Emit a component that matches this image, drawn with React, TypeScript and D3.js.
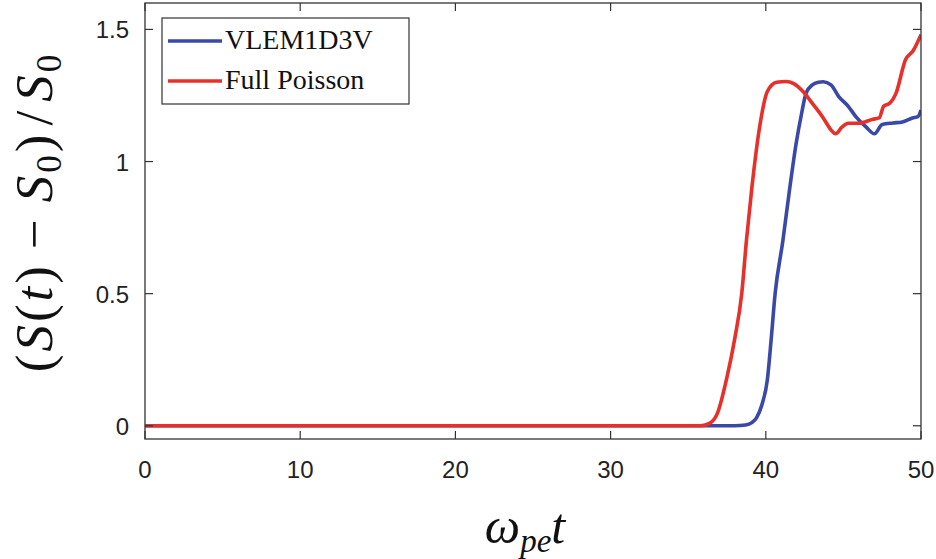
import React from "react";
import * as d3 from "d3";

const xTicks = [0, 10, 20, 30, 40, 50];
const yTicks = [0, 0.5, 1, 1.5];
const yTickLabels = ["0", "0.5", "1", "1.5"];

const seriesNames = ["VLEM1D3V", "Full Poisson"];
const seriesColors = ["#3a48a8", "#e8302a"];

const blueX = [0, 38, 38.7, 39.1, 39.4, 39.75, 40.1, 40.35, 40.6, 41.1, 41.5, 41.96, 42.3, 42.6, 43.0, 43.4, 43.7, 44.2, 44.7, 45.3, 45.8, 46.47, 47.0, 47.5, 48.2, 48.8, 49.45, 49.8, 50];
const blueY = [0, 0, 0.003, 0.012, 0.03, 0.08, 0.174, 0.33, 0.5, 0.7, 0.88, 1.07, 1.18, 1.26, 1.29, 1.3, 1.302, 1.29, 1.246, 1.21, 1.17, 1.13, 1.105, 1.14, 1.146, 1.15, 1.165, 1.17, 1.195];

const redX = [0, 35.8, 36.4, 36.9, 37.46, 38.0, 38.45, 38.75, 39.1, 39.6, 40.1, 40.7, 41.3, 41.8, 42.4, 43.0, 43.7, 44.2, 44.5, 44.9, 45.3, 46.0, 46.9, 47.3, 47.6, 47.97, 48.4, 49.0, 49.5, 50];
const redY = [0, 0, 0.01, 0.05, 0.174, 0.33, 0.5, 0.7, 0.9, 1.13, 1.265, 1.3, 1.303, 1.295, 1.265, 1.22, 1.165, 1.12, 1.105, 1.13, 1.145, 1.145, 1.16, 1.165, 1.21, 1.22, 1.26, 1.385, 1.42, 1.48];

const seriesX = [blueX, redX];
const seriesY = [blueY, redY];

export default function App() {
  const W = 936, H = 559;
  const left = 145, right = 921, top = 3, bottom = 439;
  const x = d3.scaleLinear().domain([0, 50]).range([left, right]);
  const y = d3.scaleLinear().domain([-0.05, 1.6]).range([bottom, top]);
  const line = d3
    .line<[number, number]>()
    .x((d) => x(d[0]))
    .y((d) => y(d[1]))
    .curve(d3.curveMonotoneX);
  const tickLen = 8;
  const axisColor = "#333";
  const sans = "'Liberation Sans', Arial, sans-serif";
  const serif = "'Liberation Serif', 'DejaVu Serif', 'Times New Roman', serif";

  return (
    <svg width={W} height={H} style={{ position: "absolute", left: 0, top: 0, background: "#fff" }}>
      <rect x={0} y={0} width={W} height={H} fill="#fff" />
      <defs>
        <clipPath id="plotclip">
          <rect x={left} y={top} width={right - left} height={bottom - top} />
        </clipPath>
      </defs>
      <g clipPath="url(#plotclip)">
        {seriesX.map((xs, i) => (
          <path
            key={i}
            d={line(xs.map((v, j) => [v, seriesY[i][j]] as [number, number])) || ""}
            fill="none"
            stroke={seriesColors[i]}
            strokeWidth={3.6}
            strokeLinejoin="round"
          />
        ))}
      </g>
      <rect x={left} y={top} width={right - left} height={bottom - top} fill="none" stroke={axisColor} strokeWidth={1.3} />
      {xTicks.map((t) => (
        <g key={"x" + t}>
          <line x1={x(t)} x2={x(t)} y1={bottom} y2={bottom - tickLen} stroke={axisColor} strokeWidth={1.2} />
          <line x1={x(t)} x2={x(t)} y1={top} y2={top + tickLen} stroke={axisColor} strokeWidth={1.2} />
          <text x={x(t)} y={478} textAnchor="middle" fontFamily={sans} fontSize={24} fill="#222">
            {t}
          </text>
        </g>
      ))}
      {yTicks.map((t, i) => (
        <g key={"y" + t}>
          <line x1={left} x2={left + tickLen} y1={y(t)} y2={y(t)} stroke={axisColor} strokeWidth={1.2} />
          <line x1={right} x2={right - tickLen} y1={y(t)} y2={y(t)} stroke={axisColor} strokeWidth={1.2} />
          <text x={129} y={y(t) + 9} textAnchor="end" fontFamily={sans} fontSize={24} fill="#222">
            {yTickLabels[i]}
          </text>
        </g>
      ))}
      {/* legend */}
      <rect x={162} y={18} width={247} height={86} fill="#fff" stroke={axisColor} strokeWidth={1.2} />
      {seriesNames.map((n, i) => (
        <g key={n}>
          <line x1={168} x2={222} y1={41 + i * 40} y2={41 + i * 40} stroke={seriesColors[i]} strokeWidth={3.6} />
          <text x={225} y={49 + i * 40} style={{ fontFamily: serif }} fontSize={28} fill="#111">
            {n}
          </text>
        </g>
      ))}
      {/* y label */}
      <text
        transform="translate(52,212) rotate(-90)"
        textAnchor="middle"
        style={{ fontFamily: serif, letterSpacing: "3px" }}
        fontSize={53}
        fill="#111"
      >
        <tspan>(</tspan>
        <tspan fontStyle="italic">S</tspan>
        <tspan>(</tspan>
        <tspan fontStyle="italic">t</tspan>
        <tspan>)</tspan>
        <tspan dx={14}>−</tspan>
        <tspan dx={14} fontStyle="italic">S</tspan>
        <tspan fontSize={35} dy={9}>0</tspan>
        <tspan dy={-9}>)</tspan>
        <tspan dx={6}>/</tspan>
        <tspan dx={6} fontStyle="italic">S</tspan>
        <tspan fontSize={35} dy={9}>0</tspan>
      </text>
      {/* x label */}
      <text x={525} y={543} textAnchor="middle" style={{ fontFamily: serif }} fontSize={50} fill="#111">
        <tspan fontStyle="italic">ω</tspan>
        <tspan fontStyle="italic" fontSize={33} dy={9}>pe</tspan>
        <tspan fontStyle="italic" dy={-9}>t</tspan>
      </text>
    </svg>
  );
}
